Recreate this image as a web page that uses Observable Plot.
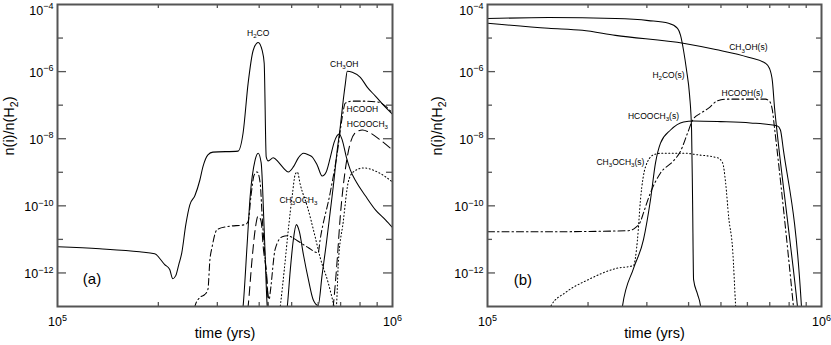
<!DOCTYPE html>
<html>
<head>
<meta charset="utf-8">
<script src="https://cdn.jsdelivr.net/npm/d3@7"></script>
<script src="https://cdn.jsdelivr.net/npm/@observablehq/plot@0.6"></script>
<style>
  html, body { margin: 0; padding: 0; background: #fff; }
  #wrap { display: flex; width: 831px; height: 345px; }
</style>
</head>
<body>
<div id="wrap"></div>
<script>
// ---------- Data (log10 of time in yrs, log10 of n(i)/n(H2)) ----------
// Panel (a): gas phase
const a_H2CO_t = [5.000,5.126,5.245,5.290,5.320,5.335,5.344,5.353,5.362,5.371,5.383,5.395,5.410,5.425,5.434,5.449,5.464,5.539,5.554,5.569,5.584,5.599,5.611,5.617,5.623,5.629,5.644,5.659,5.674,5.689,5.704,5.719,5.734,5.749,5.760,5.775,5.790,5.802,5.814,5.826,5.841,5.850,5.862,5.874,5.892,5.919,5.949,5.979,6.000];
const a_H2CO_n = [-11.22,-11.28,-11.37,-11.43,-11.75,-11.90,-12.17,-12.08,-11.75,-11.40,-10.56,-9.97,-9.70,-9.23,-8.84,-8.48,-8.40,-8.37,-7.83,-6.35,-5.37,-5.13,-5.37,-5.75,-8.54,-8.66,-8.57,-8.69,-8.87,-8.99,-8.84,-8.57,-8.43,-8.48,-8.54,-8.78,-9.11,-8.99,-8.57,-8.10,-7.86,-8.04,-8.54,-8.93,-9.29,-9.70,-10.12,-10.42,-10.65];

const a_CH3OH_t = [5.548,5.554,5.566,5.575,5.590,5.599,5.608,5.617,5.626,5.632,5.680,5.686,5.695,5.704,5.713,5.722,5.734,5.749,5.763,5.778,5.790,5.802,5.814,5.823,5.835,5.844,5.853,5.859,5.865,5.880,5.904,5.925,5.949,5.973,6.000];
const a_CH3OH_n = [-13.5,-13.0,-11.16,-9.73,-8.63,-8.43,-8.72,-10.71,-13.0,-13.5,-13.5,-13.0,-11.90,-11.01,-10.56,-10.77,-11.45,-12.20,-12.79,-12.97,-12.05,-11.16,-10.18,-9.44,-8.34,-7.65,-6.85,-6.38,-5.99,-6.02,-6.17,-6.47,-6.73,-7.00,-7.27];

const a_HCOOH_t = [5.404,5.410,5.425,5.440,5.449,5.455,5.461,5.476,5.506,5.560,5.569,5.578,5.587,5.596,5.605,5.611,5.620,5.629,5.632,5.635,5.650,5.671,5.686,5.716,5.749,5.778,5.784,5.814,5.835,5.850,5.859,5.880,5.919,5.958,5.979,6.000];
const a_HCOOH_n = [-13.5,-13.0,-12.73,-12.64,-12.49,-11.60,-11.25,-10.71,-10.62,-10.56,-10.47,-9.67,-9.08,-8.99,-9.32,-10.33,-11.57,-12.70,-12.79,-12.58,-11.28,-10.92,-10.89,-11.04,-11.25,-11.40,-11.01,-9.61,-8.43,-7.36,-6.94,-6.88,-6.88,-6.91,-7.03,-7.24];

const a_HCOOCH3_t = [5.563,5.569,5.581,5.590,5.599,5.608,5.614,5.626,5.632,5.817,5.823,5.835,5.844,5.859,5.874,5.892,5.910,5.934,5.964,6.000];
const a_HCOOCH3_n = [-13.5,-13.0,-11.57,-10.71,-10.30,-10.47,-11.22,-12.29,-13.5,-13.5,-13.0,-11.60,-10.33,-8.93,-8.13,-7.80,-7.74,-7.83,-8.04,-8.34];

const a_CH3OCH3_t = [5.659,5.665,5.677,5.689,5.701,5.710,5.716,5.725,5.746,5.769,5.784,5.808,5.823,5.826,5.832,5.838,5.853,5.868,5.883,5.913,5.955,6.000];
const a_CH3OCH3_n = [-13.5,-13.0,-11.90,-10.71,-9.67,-9.05,-9.00,-9.38,-10.03,-10.92,-11.54,-12.29,-12.88,-13.0,-13.0,-11.75,-10.47,-9.29,-8.99,-8.87,-8.99,-9.29];

// Panel (b): grain surface
const b_H2CO_t = [5.000,5.183,5.383,5.482,5.542,5.569,5.578,5.587,5.596,5.605,5.611,5.614,5.617,5.629,5.638,5.641];
const b_H2CO_n = [-4.42,-4.39,-4.42,-4.48,-4.56,-4.71,-4.92,-5.37,-5.96,-6.70,-7.74,-9.82,-12.20,-12.64,-13.0,-13.5];

const b_CH3OH_t = [5.000,5.183,5.284,5.383,5.590,5.683,5.781,5.832,5.844,5.853,5.859,5.868,5.898,5.928,5.931];
const b_CH3OH_n = [-4.56,-4.71,-4.77,-4.92,-5.16,-5.34,-5.57,-5.75,-5.90,-6.29,-7.03,-7.89,-10.42,-13.0,-13.3];

const b_HCOOCH3_t = [5.398,5.404,5.437,5.467,5.488,5.503,5.518,5.548,5.587,5.617,5.698,5.787,5.868,5.877,5.886,5.940,5.943];
const b_HCOOCH3_n = [-13.5,-13.0,-11.87,-11.01,-9.82,-8.72,-8.13,-7.74,-7.50,-7.47,-7.49,-7.53,-7.62,-7.74,-8.34,-13.0,-13.5];

const b_HCOOH_t = [5.000,5.219,5.422,5.443,5.458,5.467,5.488,5.518,5.557,5.578,5.599,5.614,5.638,5.662,5.686,5.713,5.832,5.844,5.853,5.859,5.916,5.919];
const b_HCOOH_n = [-10.77,-10.77,-10.74,-10.65,-10.47,-10.21,-9.61,-9.02,-8.66,-8.37,-7.83,-7.45,-7.24,-7.09,-6.88,-6.82,-6.82,-6.88,-7.15,-7.65,-13.0,-13.3];

const b_CH3OCH3_t = [5.183,5.189,5.234,5.302,5.383,5.437,5.449,5.458,5.473,5.497,5.524,5.587,5.629,5.689,5.704,5.713,5.722,5.734,5.743,5.746];
const b_CH3OCH3_n = [-13.5,-13.0,-12.58,-12.20,-11.87,-11.78,-11.01,-9.82,-8.84,-8.48,-8.43,-8.43,-8.48,-8.57,-8.72,-9.32,-10.33,-11.31,-13.0,-13.5];

// Curve labels (text, log t, log n)
const a_labels = ["H_2CO", "CH_3OH", "HCOOH", "HCOOCH_3", "CH_3OCH_3"];
const a_label_t = [5.599, 5.856, 5.910, 5.925, 5.719];
const a_label_n = [-4.86, -5.78, -7.12, -7.56, -9.82];
const b_labels = ["CH_3OH(s)", "H_2CO(s)", "HCOOH(s)", "HCOOCH_3(s)", "CH_3OCH_3(s)"];
const b_label_t = [5.781, 5.542, 5.763, 5.497, 5.398];
const b_label_n = [-5.28, -6.11, -6.64, -7.33, -8.69];

const panelLetters = ["(a)", "(b)"];
const letter_t = [5.103, 5.106];
const letter_n = [-12.20, -12.23];

// Axis ticks
const xDomain = [1e5, 1e6];
const yDomain = [1e-13, 1e-4];
const xMinorTicks = [2e5, 3e5, 4e5, 5e5, 6e5, 7e5, 8e5, 9e5];
const xLabelTicks = [1e5, 1e6];
const yLabelTicks = [1e-12, 1e-10, 1e-8, 1e-6];
const yTopLabelTick = [1e-4];
const yMajorTicks = [1e-12, 1e-10, 1e-8, 1e-6];
const yMinorTicks = [1e-11, 1e-9, 1e-7, 1e-5];

const xTitle = "time (yrs)";
const yTitle = "n(i)/n(H_2)";

// ---------- Build ----------
const SOLID = null, DASHDOT = "7,3,1.5,3", LONGDASH = "9,5", DOTTED = "1,2.5";

function series(t, n) { return t.map((v, i) => ({t: 10 ** v, n: 10 ** n[i]})); }

const panelA = [
  [a_H2CO_t, a_H2CO_n, SOLID],
  [a_CH3OH_t, a_CH3OH_n, SOLID],
  [a_HCOOH_t, a_HCOOH_n, DASHDOT],
  [a_HCOOCH3_t, a_HCOOCH3_n, LONGDASH],
  [a_CH3OCH3_t, a_CH3OCH3_n, DOTTED]
];
const panelB = [
  [b_H2CO_t, b_H2CO_n, SOLID],
  [b_CH3OH_t, b_CH3OH_n, SOLID],
  [b_HCOOCH3_t, b_HCOOCH3_n, SOLID],
  [b_HCOOH_t, b_HCOOH_n, DASHDOT],
  [b_CH3OCH3_t, b_CH3OCH3_n, DOTTED]
];

const FONT = "'Liberation Sans', Arial, Helvetica, sans-serif";
const PH = 302, PW = 334;
const expFmt = d => "10^" + Math.round(Math.log10(d));

function makePanel(width, marginLeft, marginRight, curves, labels, lt, ln, li) {
  const labelRows = labels.map((s, i) => ({t: 10 ** lt[i], n: 10 ** ln[i], s}));
  const marks = [
    ...curves.map(([t, n, dash]) => Plot.line(series(t, n), {
      x: "t", y: "n", stroke: "black", strokeWidth: 1.05,
      strokeDasharray: dash, curve: "monotone-x", clip: true
    })),
    Plot.text(labelRows, {x: "t", y: "n", text: "s", fontSize: 8.5, fill: "black"}),
    Plot.text([{t: 10 ** letter_t[li], n: 10 ** letter_n[li], s: panelLetters[li]}],
      {x: "t", y: "n", text: "s", fontSize: 15, fill: "black"}),
    // inner ticks
    Plot.ruleX(xMinorTicks, {stroke: "#555", strokeWidth: 1.3, insetTop: PH - 4}),
    Plot.ruleX(xMinorTicks, {stroke: "#555", strokeWidth: 1.3, insetBottom: PH - 4}),
    Plot.ruleY(yMajorTicks, {stroke: "#555", strokeWidth: 1.3, insetRight: PW - 8}),
    Plot.ruleY(yMajorTicks, {stroke: "#555", strokeWidth: 1.3, insetLeft: PW - 8}),
    Plot.ruleY(yMinorTicks, {stroke: "#555", strokeWidth: 1.3, insetRight: PW - 5}),
    Plot.ruleY(yMinorTicks, {stroke: "#555", strokeWidth: 1.3, insetLeft: PW - 5}),
    Plot.frame({stroke: "#555", strokeWidth: 2}),
    Plot.axisX(xLabelTicks, {anchor: "bottom", tickSize: 0, tickPadding: 11, fontSize: 12.5,
      tickFormat: expFmt, label: null}),
    Plot.axisY(yLabelTicks, {anchor: "left", tickSize: 0, tickPadding: 4, fontSize: 12.5,
      tickFormat: expFmt, label: null, dy: 1}),
    Plot.axisY(yTopLabelTick, {anchor: "left", tickSize: 0, tickPadding: 4, fontSize: 12.5,
      tickFormat: expFmt, label: null, dy: 6}),
    Plot.text([xTitle], {frameAnchor: "bottom", dy: 31, fontSize: 14.5, fill: "black"}),
    Plot.text([yTitle], {frameAnchor: "left", dx: -(marginLeft - (li === 0 ? 9 : 22)), rotate: -90, fontSize: 14.5, fill: "black"})
  ];
  return Plot.plot({
    width, height: 345,
    marginLeft, marginRight, marginTop: 4, marginBottom: 39,
    x: {type: "log", domain: xDomain},
    y: {type: "log", domain: yDomain},
    style: {fontFamily: FONT, color: "black", background: "white", overflow: "visible"},
    marks
  });
}

function richify(svg) {
  svg.querySelectorAll("text").forEach(el => {
    const s = el.textContent;
    if (!/[_^]/.test(s)) return;
    const fs = parseFloat(getComputedStyle(el).fontSize) || 10;
    const parts = s.split(/(\^[-\d]+|_\d)/).filter(p => p !== "");
    while (el.firstChild) el.removeChild(el.firstChild);
    let shift = 0;
    for (const p of parts) {
      let target = 0, size = fs, txt = p;
      if (p[0] === "^") { target = -0.42 * fs; size = 0.72 * fs; txt = p.slice(1).replace("-", "\u2212"); }
      else if (p[0] === "_") { target = 0.28 * fs; size = 0.72 * fs; txt = p.slice(1); }
      const ts = document.createElementNS("http://www.w3.org/2000/svg", "tspan");
      ts.setAttribute("dy", (target - shift).toFixed(2));
      ts.setAttribute("font-size", size.toFixed(2));
      ts.textContent = txt;
      el.appendChild(ts);
      shift = target;
    }
  });
}

const wrap = document.getElementById("wrap");
const svgA = makePanel(415, 57, 23, panelA, a_labels, a_label_t, a_label_n, 0);
const svgB = makePanel(416, 72, 10, panelB, b_labels, b_label_t, b_label_n, 1);
wrap.appendChild(svgA);
wrap.appendChild(svgB);
richify(svgA);
richify(svgB);
</script>
</body>
</html>
